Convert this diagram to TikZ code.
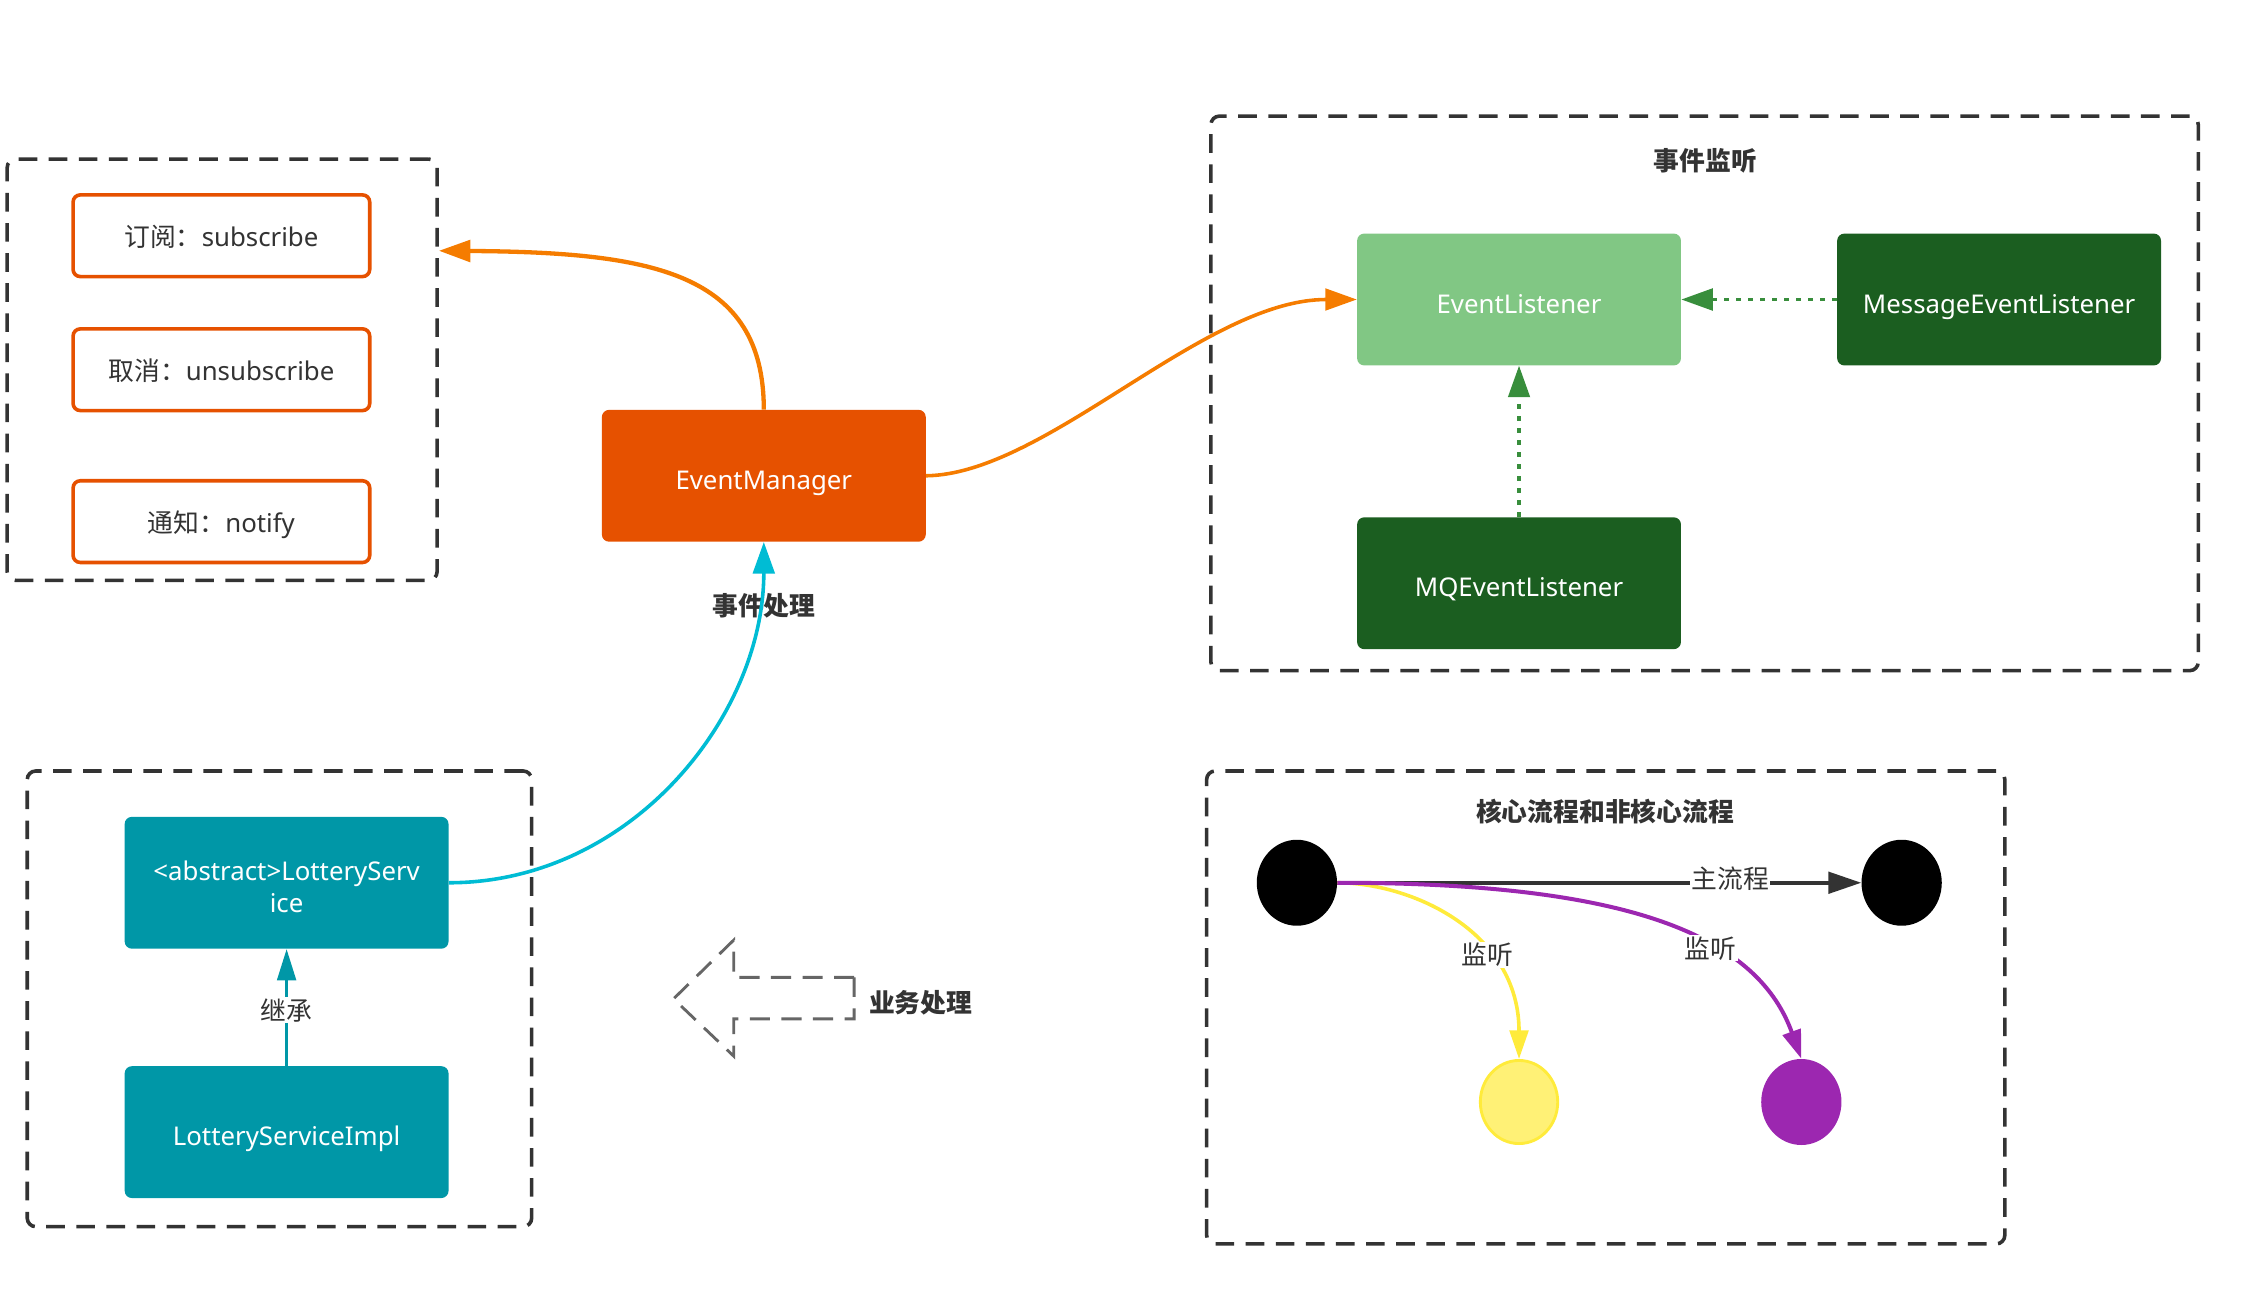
\documentclass[tikz,border=0pt]{standalone}
\usepackage{fontspec}
\setmainfont{Noto Sans}
\newfontfamily\cjk{Noto Sans CJK SC}
\usetikzlibrary{arrows.meta,shapes.geometric}

\definecolor{ink}{HTML}{333333}
\definecolor{emfill}{HTML}{E65100}
\definecolor{emline}{HTML}{F57C00}
\definecolor{lgreen}{HTML}{81C784}
\definecolor{dgreen}{HTML}{1B5E20}
\definecolor{agreen}{HTML}{388E3C}
\definecolor{teal}{HTML}{0097A7}
\definecolor{cyanline}{HTML}{00BCD4}
\definecolor{hollow}{HTML}{666666}
\definecolor{yfill}{HTML}{FFF176}
\definecolor{yline}{HTML}{FFEB3B}
\definecolor{purp}{HTML}{9C27B0}

\begin{document}
\begin{tikzpicture}[x=1pt,y=-1pt,
  font=\fontsize{18}{22}\selectfont,
  group/.style={draw=ink, line width=2.5pt, dash pattern=on 13pt off 8pt,
    rounded corners=6pt, inner sep=0pt},
  opbox/.style={draw=emfill, line width=2.5pt, fill=white, rounded corners=5pt,
    minimum width=207pt, minimum height=57pt, inner sep=0pt, text=ink,
    text height=15pt, text depth=0pt},
  classbox/.style={rounded corners=5pt, minimum width=226pt, minimum height=92pt,
    inner sep=0pt, text=white, align=center, text height=19pt, text depth=0pt},
  title/.style={text=ink, font=\fontsize{18}{22}\selectfont\cjk\bfseries},
  lbl/.style={text=ink, font=\fontsize{18}{22}\selectfont\cjk, fill=white, inner sep=1pt},
  tip/.style={-{Triangle[length=22pt,width=15pt]}},
  state/.style={ellipse, minimum width=56pt, minimum height=60pt, inner sep=0pt}
]
\useasboundingbox (0,0) rectangle (1568,904);

% dashed group frames
\node[group, minimum width=300pt, minimum height=294pt] (grpOps) at (155,258) {};
\node[group, minimum width=689pt, minimum height=387pt] (grpListen) at (1189.5,274.5) {};
\node[group, minimum width=352pt, minimum height=318pt] (grpService) at (195,697) {};
\node[group, minimum width=557pt, minimum height=330pt] (grpFlow) at (1120.5,703) {};

% operations of the manager
\node[opbox] (sub) at (154.5,164.5) {{\cjk 订阅：}subscribe};
\node[opbox] (unsub) at (154.5,258) {{\cjk 取消：}unsubscribe};
\node[opbox] (notify) at (154.5,364) {{\cjk 通知：}notify};

% classes
\node[classbox, fill=emfill] (em) at (533,332) {EventManager};
\node[classbox, fill=lgreen] (el) at (1060,209) {EventListener};
\node[classbox, fill=dgreen] (mel) at (1395,209) {MessageEventListener};
\node[classbox, fill=dgreen] (mq) at (1060,407) {MQEventListener};
\node[classbox, fill=teal, text height=41pt] (ls) at (200,616) {<abstract>LotteryServ\\ice};
\node[classbox, fill=teal] (impl) at (200,790) {LotteryServiceImpl};

% titles
\node[title] (tListen) at (1190,112) {事件监听};
\node[title] (tFlow) at (1120,566) {核心流程和非核心流程};
\node[title] (tEvent) at (533,423) {事件处理};

% manager connections
\draw[emline, line width=3pt, tip] (em.north) .. controls (533,190) and (455,176) .. (grpOps.east |- 0,175);
\draw[emline, line width=2.5pt, tip] (em.east) .. controls (730,331) and (840,209) .. (el.west);
\draw[cyanline, line width=2.5pt, tip] (ls.east) .. controls (440,616) and (533,500) .. (em.south);

% listener hierarchy
\draw[agreen, line width=2.6pt, dash pattern=on 3.5pt off 4.9pt, tip] (mel.west) -- (el.east);
\draw[agreen, line width=2.3pt, dash pattern=on 3.5pt off 4.9pt, tip] (mq.north) -- (el.south);

% service inheritance
\draw[teal, line width=2.5pt, -{Triangle[length=22pt,width=13pt]}] (impl.north) -- node[lbl, yshift=-2pt] {继承} (ls.south);

% hollow business arrow
\draw[hollow, line width=2pt, dash pattern=on 14pt off 8pt]
  (596,682) -- (512,682) -- (512,656) -- (470,697) -- (512,737) -- (512,711) -- (596,711) -- cycle;
\node[title, anchor=west] (tBiz) at (603,700) {业务处理};

% core and side flows
\node[state, fill=black] (s1) at (905,616) {};
\node[state, fill=black] (s2) at (1327,616) {};
\node[state, fill=yfill, draw=yline, line width=2pt, minimum width=54pt, minimum height=58pt] (y1) at (1060,769) {};
\node[state, fill=purp] (p1) at (1257,769) {};

\draw[ink, line width=2.5pt, -{Triangle[length=23pt,width=15pt]}] (s1.east) -- node[lbl, pos=0.75, yshift=3pt] {主流程} (s2.west);
\draw[yline, line width=2.5pt, -{Triangle[length=20pt,width=13pt]}] (s1.east) .. controls (985,616) and (1060,650) .. node[lbl, pos=0.66] {监听} (y1.north);
\draw[purp, line width=2.8pt, -{Triangle[length=20pt,width=13pt]}] (s1.east) .. controls (1130,616) and (1225,650) .. node[lbl, pos=0.63] {监听} (p1.north);
\end{tikzpicture}
\end{document}
